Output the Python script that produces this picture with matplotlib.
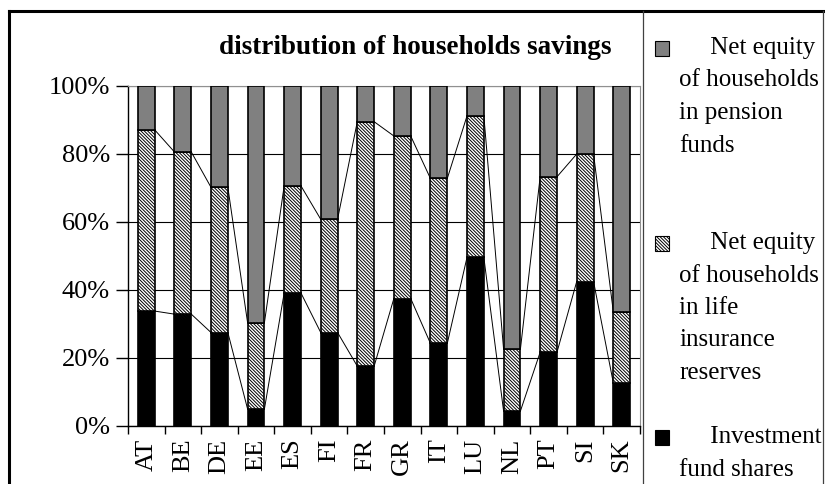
import numpy as np
import matplotlib.pyplot as plt
import matplotlib.patches as patches
from matplotlib.lines import Line2D

plt.rcParams['font.family'] = ['Liberation Serif', 'DejaVu Serif']
plt.rcParams['hatch.linewidth'] = 0.7

# data (% of household savings)
countries = ['AT', 'BE', 'DE', 'EE', 'ES', 'FI', 'FR', 'GR', 'IT', 'LU', 'NL', 'PT', 'SI', 'SK']
fund_shares = [33.8, 32.9, 27.5, 5.0, 39.1, 27.5, 17.6, 37.5, 24.3, 49.6, 4.4, 21.7, 42.5, 12.7]
life_insurance = [53.3, 47.7, 42.7, 25.4, 31.5, 33.3, 71.9, 47.8, 48.5, 41.6, 18.2, 51.6, 37.5, 20.9]
pension_funds = [12.9, 19.4, 29.8, 69.6, 29.4, 39.2, 10.5, 14.7, 27.2, 8.8, 77.4, 26.7, 20.0, 66.4]

fund_shares = np.array(fund_shares)
life_insurance = np.array(life_insurance)
pension_funds = np.array(pension_funds)

fig = plt.figure(figsize=(8.25, 4.84), dpi=100)
ax = fig.add_axes([128 / 825, 1 - 426 / 484, 512 / 825, 340 / 484])

x = np.arange(len(countries))
w = 0.46
hatch = '\\' * 10

ax.bar(x, fund_shares, w, color='black', edgecolor='black', linewidth=1.2, zorder=3)
ax.bar(x, life_insurance, w, bottom=fund_shares, color='white', edgecolor='black',
       hatch=hatch, linewidth=1.2, zorder=3)
ax.bar(x, pension_funds, w, bottom=fund_shares + life_insurance, color='#808080',
       edgecolor='black', linewidth=1.2, zorder=3)

# series lines between neighbouring bars
top1 = fund_shares
top2 = fund_shares + life_insurance
for i in range(len(x) - 1):
    ax.plot([x[i] + w / 2, x[i + 1] - w / 2], [top1[i], top1[i + 1]], color='black', lw=0.7, zorder=2)
    ax.plot([x[i] + w / 2, x[i + 1] - w / 2], [top2[i], top2[i + 1]], color='black', lw=0.7, zorder=2)

ax.set_xlim(-0.5, len(x) - 0.5)
ax.set_ylim(0, 100)
ax.set_yticks([0, 20, 40, 60, 80, 100])
ax.set_yticklabels(['0%', '20%', '40%', '60%', '80%', '100%'], fontsize=19)
ax.yaxis.grid(True, color='black', lw=0.8)
ax.set_axisbelow(True)

ax.set_xticks(x)
ax.set_xticklabels(countries, rotation=90, fontsize=19)
ax.set_xticks(np.arange(-0.5, len(x), 1), minor=True)
ax.tick_params(axis='x', which='major', length=0, pad=9)
ax.tick_params(axis='x', which='minor', length=6, width=1)
ax.tick_params(axis='y', length=9, width=1, pad=4)

ax.spines['top'].set_color('#909090')
ax.spines['right'].set_color('#909090')
for s in ['left', 'bottom']:
    ax.spines[s].set_linewidth(1)

fig.text(415 / 825, 1 - 48 / 484, 'distribution of households savings', fontsize=19.5,
         fontweight='bold', ha='center', va='center')

# outer frame
fig.add_artist(Line2D([9 / 825, 9 / 825], [0, 1 - 11 / 484], transform=fig.transFigure, color='black', lw=2.2))
fig.add_artist(Line2D([9 / 825, 1], [1 - 11 / 484, 1 - 11 / 484], transform=fig.transFigure, color='black', lw=2.2))
fig.add_artist(Line2D([643 / 825, 643 / 825], [0, 1 - 11 / 484], transform=fig.transFigure, color='#404040', lw=0.9))
fig.add_artist(Line2D([823 / 825, 823 / 825], [0, 1 - 11 / 484], transform=fig.transFigure, color='#404040', lw=0.9))

# legend
legend_items = [
    ('#808080', None, ['     Net equity', 'of households', 'in pension', 'funds'], 48),
    ('white', hatch, ['     Net equity', 'of households', 'in life', 'insurance', 'reserves'], 243),
    ('black', None, ['     Investment', 'fund shares'], 437),
]
for color, h, lines, ytop in legend_items:
    r = patches.Rectangle((655 / 825, 1 - (ytop + 8) / 484), 14 / 825, 15 / 484,
                          transform=fig.transFigure, facecolor=color, edgecolor='black',
                          hatch=h, lw=0.8)
    fig.add_artist(r)
    for k, t in enumerate(lines):
        fig.text(679 / 825, 1 - (ytop + k * 32.5) / 484, t, fontsize=18, ha='left', va='center')

fig.savefig('out.png', dpi=100)
